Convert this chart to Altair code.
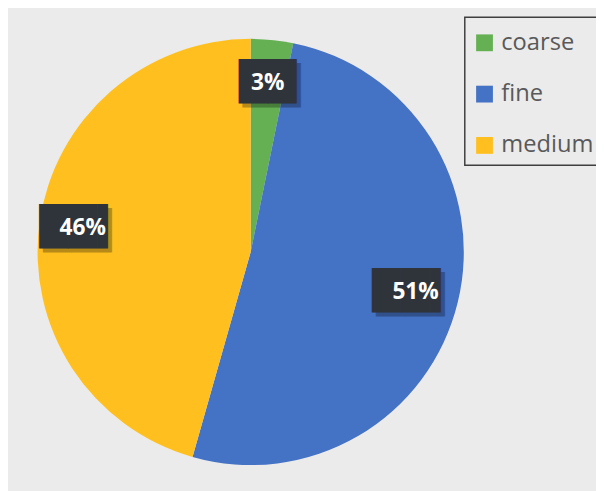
import altair as alt
import pandas as pd

categories = ["coarse", "fine", "medium"]
shares = [3.2, 51.2, 45.6]
labels = ["3%", "51%", "46%"]
box_glyphs = ["██", "██▍", "██▍"]
colors = ["#64b052", "#4472c4", "#ffbf1f"]
order = [0, 1, 2]

df = pd.DataFrame({
    "category": categories,
    "share": shares,
    "label": labels,
    "box": box_glyphs,
    "order": order,
})

BG = "#ebebeb"
base = alt.Chart(df).encode(
    theta=alt.Theta("share:Q", stack=True),
    order=alt.Order("order:Q"),
    x=alt.value(246),
    y=alt.value(244),
)

pie = base.mark_arc(radius=216).encode(
    color=alt.Color(
        "category:N",
        scale=alt.Scale(domain=categories, range=colors),
        legend=alt.Legend(
            title="\u00a0",
            titleFontSize=6,
            titlePadding=0,
            orient="none",
            legendX=463,
            legendY=6,
            symbolType="square",
            symbolSize=290,
            symbolStrokeWidth=0,
            labelFontSize=24,
            labelFont="Open Sans",
            labelColor="#595959",
            labelOffset=5,
            rowPadding=28,
            padding=8,
            strokeColor="#3f3f3f",
            fillColor=BG,
            labelExpr="datum.label + '\u00a0\u00a0\u00a0\u00a0'",
        ),
    )
)

shadow = base.mark_text(radius=172, font="DejaVu Sans", fontSize=38,
                        color="#000000", opacity=0.28, dx=4, dy=4).encode(text="box:N")
box = base.mark_text(radius=172, font="DejaVu Sans", fontSize=38,
                     color="#2f343b").encode(text="box:N")
txt = base.mark_text(radius=172, font="Open Sans", fontSize=23,
                     fontWeight="bold", color="white").encode(text="label:N")

chart = alt.layer(pie, shadow, box, txt).properties(
    width=486,
    height=483,
    padding={"left": 0, "top": 0, "right": 110, "bottom": 0},
    autosize=alt.AutoSizeParams(type="none"),
    background=BG,
).configure_view(stroke=None).configure_legend(strokeWidth=1.5)

chart.save("out.html", embed_options={"renderer": "svg", "actions": False})
